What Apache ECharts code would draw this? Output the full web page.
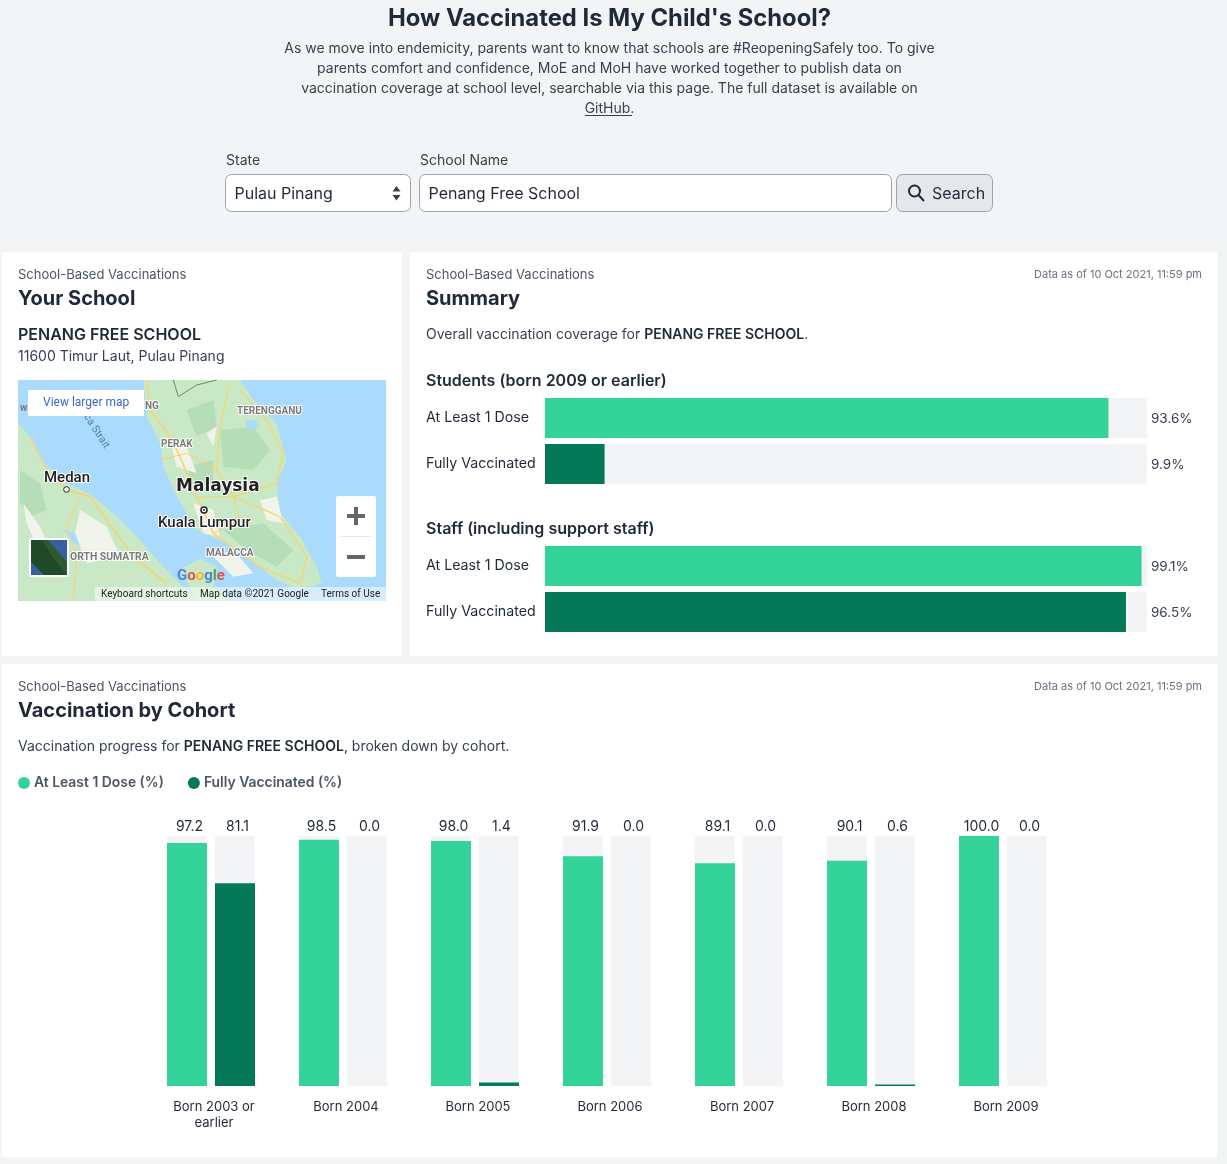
<!DOCTYPE html>
<html>
<head>
<meta charset="utf-8">
<title>How Vaccinated Is My Child's School?</title>
<script src="https://cdn.jsdelivr.net/npm/echarts@6/dist/echarts.min.js"></script>
<style>
html, body { margin: 0; padding: 0; background: #f3f4f6; }
#main { width: 1227px; height: 1164px; }
</style>
</head>
<body>
<div id="main"></div>
<script>
var SCALE_MAX = 100;

var summaryLabels = ['At Least 1 Dose', 'Fully Vaccinated'];
var studentValues = [93.6, 9.9];
var staffValues = [99.1, 96.5];
var summaryTrack = [100, 100];

var cohorts = ['Born 2003 or\nearlier', 'Born 2004', 'Born 2005', 'Born 2006', 'Born 2007', 'Born 2008', 'Born 2009'];
var atLeastOneDose = [97.2, 98.5, 98.0, 91.9, 89.1, 90.1, 100.0];
var fullyVaccinated = [81.1, 0.0, 1.4, 0.0, 0.0, 0.6, 0.0];
var cohortTrack = [100, 100, 100, 100, 100, 100, 100];

var GREEN = '#34d399', DARK = '#047857', TRACK = '#f3f4f6';
var INK = '#1f2937', BODY = '#374151', MUTED = '#4b5563';
var FONT = 'Inter, "Noto Sans", sans-serif';
var MAP_FONT = 'Roboto, Arial, sans-serif';

// plain graphic helpers, everything below the charts is page furniture
function txt(x, y, text, size, weight, color, align, family) {
    return {
        type: 'text', x: x, y: y + 1, silent: true,
        style: {
            text: text, fontSize: size, fontWeight: weight, fill: color,
            fontFamily: family || FONT, align: align || 'left', verticalAlign: 'middle'
        }
    };
}
function box(x, y, w, h, fill, stroke, r) {
    return {
        type: 'rect', silent: true,
        shape: { x: x, y: y, width: w, height: h, r: r || 0 },
        style: { fill: fill, stroke: stroke || null, lineWidth: stroke ? 1 : 0 }
    };
}
// map sketch points were read in zoomed crop coordinates
function zm(pts) {
    return pts.map(function (p) { return [p[0] / 3, p[1] / 3 + 370]; });
}
function land(pts, fill) {
    return { type: 'polygon', silent: true, shape: { points: zm(pts) }, style: { fill: fill } };
}
function road(pts, color, w) {
    return { type: 'polyline', silent: true, shape: { points: zm(pts) }, style: { stroke: color, fill: null, lineWidth: w || 1 } };
}
function mapLabel(x, y, text, size, weight, color, family) {
    var t = txt(x, y, text, size, weight, color, 'left', family || MAP_FONT);
    t.style.stroke = '#ffffff';
    t.style.lineWidth = 2;
    return t;
}

var page = [
    box(2, 252, 400, 404, '#ffffff'),
    box(410, 252, 807, 404, '#ffffff'),
    box(2, 664, 1215, 493, '#ffffff'),

    txt(609.5, 18, "How Vaccinated Is My Child's School?", 23.8, 700, INK, 'center'),
    txt(609.5, 48, 'As we move into endemicity, parents want to know that schools are #ReopeningSafely too. To give', 14, 400, BODY, 'center'),
    txt(609.5, 68, 'parents comfort and confidence, MoE and MoH have worked together to publish data on', 14, 400, BODY, 'center'),
    txt(609.5, 88, 'vaccination coverage at school level, searchable via this page. The full dataset is available on', 14, 400, BODY, 'center'),
    txt(609.5, 108, 'GitHub.', 14, 400, BODY, 'center'),
    box(585, 115, 47, 1, BODY),

    txt(226, 160, 'State', 14, 400, BODY),
    txt(420, 160, 'School Name', 14, 400, BODY),
    box(225.5, 174.5, 185, 37, '#ffffff', '#9ca3af', 6),
    txt(234.5, 193, 'Pulau Pinang', 16, 400, INK),
    { type: 'polygon', silent: true, shape: { points: [[392.5, 191.5], [400.5, 191.5], [396.5, 186]] }, style: { fill: '#374151' } },
    { type: 'polygon', silent: true, shape: { points: [[392.5, 195], [400.5, 195], [396.5, 200.5]] }, style: { fill: '#374151' } },
    box(419.5, 174.5, 472, 37, '#ffffff', '#9ca3af', 6),
    txt(428.5, 193, 'Penang Free School', 16, 400, INK),
    box(896.5, 174.5, 96, 37, '#e5e7eb', '#9ca3af', 6),
    { type: 'circle', silent: true, shape: { cx: 914.5, cy: 191, r: 5.5 }, style: { fill: null, stroke: INK, lineWidth: 2 } },
    { type: 'line', silent: true, shape: { x1: 918.5, y1: 195, x2: 924, y2: 201 }, style: { stroke: INK, lineWidth: 2 } },
    txt(932, 193, 'Search', 16, 400, INK),

    txt(18, 274, 'School-Based Vaccinations', 13, 400, MUTED),
    txt(18, 298, 'Your School', 20, 700, INK),
    txt(18, 334, 'PENANG FREE SCHOOL', 16, 600, INK),
    txt(18, 356, '11600 Timur Laut, Pulau Pinang', 14, 400, BODY),

    txt(426, 274, 'School-Based Vaccinations', 13, 400, MUTED),
    txt(1202, 274, 'Data as of 10 Oct 2021, 11:59 pm', 11, 400, '#6b7280', 'right'),
    txt(426, 298, 'Summary', 20, 700, INK),
    {
        type: 'text', x: 426, y: 335, silent: true,
        style: {
            text: '{a|Overall vaccination coverage for }{b|PENANG FREE SCHOOL}{a|.}',
            verticalAlign: 'middle',
            rich: {
                a: { fontFamily: FONT, fontSize: 14, fill: BODY },
                b: { fontFamily: FONT, fontSize: 14, fontWeight: 600, fill: INK }
            }
        }
    },
    txt(426, 380, 'Students (born 2009 or earlier)', 16, 600, INK),
    txt(426, 528, 'Staff (including support staff)', 16, 600, INK),

    txt(18, 686, 'School-Based Vaccinations', 13, 400, MUTED),
    txt(1202, 686, 'Data as of 10 Oct 2021, 11:59 pm', 11, 400, '#6b7280', 'right'),
    txt(18, 710, 'Vaccination by Cohort', 20, 700, INK),
    {
        type: 'text', x: 18, y: 747, silent: true,
        style: {
            text: '{a|Vaccination progress for }{b|PENANG FREE SCHOOL}{a|, broken down by cohort.}',
            verticalAlign: 'middle',
            rich: {
                a: { fontFamily: FONT, fontSize: 14, fill: BODY },
                b: { fontFamily: FONT, fontSize: 14, fontWeight: 600, fill: INK }
            }
        }
    }
];

// rough sketch of the embedded map
var LAND = '#c9e8c5', FOREST = '#b5deb8', URBAN = '#f1f4ea', SEA = '#aadafc', ROAD = '#fbd36b';
var mapSketch = [
    box(18, 380, 368, 221, SEA),
    land([[54, 160], [90, 200], [130, 280], [200, 340], [270, 372], [340, 430], [420, 510], [490, 590], [540, 640], [590, 692], [54, 692]], LAND),
    land([[430, 30], [720, 30], [760, 90], [830, 160], [860, 270], [830, 340], [840, 430], [900, 500], [950, 590], [965, 640], [900, 660], [830, 630], [780, 590], [680, 520], [590, 480], [530, 380], [490, 290], [480, 220], [440, 140]], LAND),
    land([[540, 600], [600, 565], [650, 590], [640, 650], [690, 692], [590, 692]], LAND),
    land([[660, 180], [760, 170], [810, 240], [760, 300], [670, 290]], FOREST),
    land([[60, 300], [120, 340], [140, 420], [90, 440], [60, 400]], FOREST),
    land([[670, 480], [790, 460], [880, 540], [830, 590], [740, 540]], FOREST),
    land([[560, 120], [640, 90], [650, 170], [590, 200]], FOREST),
    land([[560, 290], [640, 270], [640, 340], [580, 350]], FOREST),
    land([[240, 420], [320, 470], [360, 560], [260, 580], [225, 490]], URBAN),
    land([[70, 400], [120, 470], [160, 560], [120, 550], [80, 460]], URBAN),
    land([[580, 400], [640, 420], [660, 500], [610, 490]], URBAN),
    land([[620, 190], [650, 170], [640, 230]], URBAN),
    land([[780, 390], [830, 380], [850, 460], [800, 450]], URBAN),
    land([[510, 210], [560, 230], [590, 310], [530, 290]], URBAN),
    land([[640, 560], [700, 540], [760, 610], [700, 620]], URBAN),
    land([[190, 478], [225, 490], [240, 530], [215, 515]], SEA),
    land([[735, 150], [770, 150], [775, 175], [745, 180]], SEA),
    road([[440, 30], [450, 120], [510, 200], [540, 260], [590, 380], [640, 490], [780, 590], [900, 640]], ROAD, 1.5),
    road([[690, 30], [660, 180], [650, 300], [700, 380], [830, 340], [850, 250], [800, 150], [720, 60]], ROAD, 1.2),
    road([[200, 360], [270, 380], [320, 450], [400, 560], [500, 640]], ROAD, 1.5),
    road([[90, 200], [140, 300], [200, 360]], ROAD, 1.2),
    road([[240, 380], [200, 470], [230, 560], [220, 692]], ROAD, 1),
    road([[700, 380], [840, 440], [920, 560], [900, 640]], ROAD, 1.2),
    road([[590, 380], [700, 380], [720, 450], [640, 490]], ROAD, 1),
    road([[480, 270], [560, 250], [650, 300]], ROAD, 1),
    road([[520, 30], [535, 80], [590, 45], [650, 30]], '#7d7d7d', 1),

    mapLabel(237, 410, 'TERENGGANU', 10, 700, '#7a7a7a'),
    mapLabel(161, 443, 'PERAK', 10, 700, '#7a7a7a'),
    mapLabel(206, 552, 'MALACCA', 10, 700, '#7a7a7a'),
    mapLabel(70, 556, 'ORTH SUMATRA', 10.4, 700, '#7a7a7a'),
    mapLabel(145, 405, 'NG', 10, 700, '#7a7a7a'),
    txt(20, 407, 'w', 10, 700, '#7a7a7a', 'left', MAP_FONT),
    mapLabel(44, 477, 'Medan', 15, 500, '#222222'),
    { type: 'circle', silent: true, shape: { cx: 66.5, cy: 489.5, r: 2.8 }, style: { fill: '#ffffff', stroke: '#222222', lineWidth: 1 } },
    mapLabel(176, 486, 'Malaysia', 17, 700, '#222222', '"DejaVu Sans", sans-serif'),
    { type: 'circle', silent: true, shape: { cx: 204, cy: 510, r: 3 }, style: { fill: '#ffffff', stroke: '#222222', lineWidth: 1.5 } },
    { type: 'circle', silent: true, shape: { cx: 204, cy: 510, r: 1 }, style: { fill: '#222222' } },
    mapLabel(158, 522, 'Kuala Lumpur', 15, 500, '#222222'),
    (function () {
        var t = txt(95, 428, 'cca Strait', 10.5, 400, '#4a7fb5', 'center', MAP_FONT);
        t.rotation = -1.0;
        return t;
    })(),

    box(28, 390, 116, 26, '#ffffff'),
    txt(43, 402, 'View larger map', 12, 400, '#3a66c4', 'left', MAP_FONT),

    box(29, 538, 40, 39, '#ffffff', null, 2),
    box(31, 540, 36, 35, '#2f5a2f'),
    { type: 'polygon', silent: true, shape: { points: [[31, 540], [42, 540], [52, 556], [67, 575], [50, 575], [31, 575]] }, style: { fill: '#1f4a2a' } },
    { type: 'polygon', silent: true, shape: { points: [[48, 540], [67, 540], [67, 562]] }, style: { fill: '#3a5f9e' } },
    { type: 'polygon', silent: true, shape: { points: [[31, 562], [44, 575], [31, 575]] }, style: { fill: '#3a5f9e' } },

    box(336, 496, 40, 81, '#ffffff', null, 2),
    box(341, 536, 30, 1, '#e6e6e6'),
    box(347, 514, 18, 4, '#666666'),
    box(354, 507, 4, 18, '#666666'),
    box(347, 555, 18, 4, '#666666'),

    { type: 'text', x: 177, y: 576, silent: true, style: {
        text: '{b|G}{r|o}{y|o}{b|g}{g|l}{r|e}', verticalAlign: 'middle',
        rich: {
            b: { fontFamily: MAP_FONT, fontSize: 15, fontWeight: 700, fill: '#4e86e8' },
            r: { fontFamily: MAP_FONT, fontSize: 15, fontWeight: 700, fill: '#e0574a' },
            y: { fontFamily: MAP_FONT, fontSize: 15, fontWeight: 700, fill: '#e9b93c' },
            g: { fontFamily: MAP_FONT, fontSize: 15, fontWeight: 700, fill: '#4aa65a' }
        }
    } },

    { type: 'rect', silent: true, shape: { x: 95, y: 587, width: 291, height: 14 }, style: { fill: 'rgba(255,255,255,0.5)' } },
    txt(101, 593, 'Keyboard shortcuts', 10, 400, '#222222', 'left', MAP_FONT),
    txt(200, 593, 'Map data ©2021 Google', 10, 400, '#222222', 'left', MAP_FONT),
    txt(321, 593, 'Terms of Use', 10, 400, '#222222', 'left', MAP_FONT)
];

var hiddenValueAxis = function (grid) {
    return {
        type: 'value', gridIndex: grid, min: 0, max: SCALE_MAX,
        axisLabel: { show: false }, axisLine: { show: false }, axisTick: { show: false }, splitLine: { show: false }
    };
};
var summaryAxis = function (grid) {
    return {
        type: 'category', gridIndex: grid, data: summaryLabels, inverse: true,
        axisLine: { show: false }, axisTick: { show: false },
        axisLabel: { align: 'left', margin: 119, padding: [4, 0, 0, 0], fontFamily: FONT, fontSize: 14.2, color: INK }
    };
};
// grey full-scale track that also carries the value label
var summaryTrackSeries = function (grid, values) {
    return {
        type: 'bar', xAxisIndex: grid, yAxisIndex: grid, data: summaryTrack,
        barWidth: 40, barGap: '-100%', itemStyle: { color: TRACK }, silent: true, z: 2,
        label: {
            show: true, position: 'right', distance: 4, offset: [0, 1],
            fontFamily: FONT, fontSize: 13.5, color: BODY,
            formatter: function (p) { return values[p.dataIndex].toFixed(1) + '%'; }
        }
    };
};
var summarySeries = function (grid, values) {
    return {
        type: 'bar', xAxisIndex: grid, yAxisIndex: grid, barWidth: 40, barGap: '-100%', silent: true, z: 3,
        data: values.map(function (v, i) {
            return { value: v, itemStyle: { color: i === 0 ? GREEN : DARK } };
        })
    };
};
// cohort tracks sit on axis 2, the real bars on axis 3, so both group the same way
var cohortTrackSeries = function (values) {
    return {
        type: 'bar', xAxisIndex: 2, yAxisIndex: 2, data: cohortTrack,
        barWidth: 40, barGap: '20%', itemStyle: { color: TRACK }, silent: true, z: 2,
        label: {
            show: true, position: 'top', distance: 2, offset: [2.5, 0],
            fontFamily: FONT, fontSize: 14, color: INK,
            formatter: function (p) { return values[p.dataIndex].toFixed(1); }
        }
    };
};
var cohortSeries = function (name, values, color) {
    return {
        name: name, type: 'bar', xAxisIndex: 3, yAxisIndex: 2, data: values,
        barWidth: 40, barGap: '20%', itemStyle: { color: color }, silent: true, z: 3
    };
};

var option = {
    backgroundColor: '#f3f4f6',
    animation: false,
    textStyle: { fontFamily: FONT },
    graphic: { elements: page.concat(mapSketch) },
    legend: {
        left: 18, top: 776, icon: 'circle', itemWidth: 12, itemHeight: 12, itemGap: 24, padding: 0,
        selectedMode: false,
        data: ['At Least 1 Dose (%)', 'Fully Vaccinated (%)'],
        textStyle: { fontFamily: FONT, fontSize: 13.9, fontWeight: 600, color: MUTED, padding: [0, 0, 0, -1] }
    },
    grid: [
        { left: 545, top: 395, width: 602, height: 92 },
        { left: 545, top: 543, width: 602, height: 92 },
        { left: 145, top: 836, width: 924, height: 250 }
    ],
    xAxis: [
        hiddenValueAxis(0),
        hiddenValueAxis(1),
        {
            type: 'category', gridIndex: 2, data: cohorts,
            axisLine: { show: false }, axisTick: { show: false },
            axisLabel: { interval: 0, margin: 13, lineHeight: 16, fontFamily: FONT, fontSize: 13, color: INK, padding: [0, 0, 0, 6] }
        },
        { type: 'category', gridIndex: 2, data: cohorts, show: false }
    ],
    yAxis: [
        summaryAxis(0),
        summaryAxis(1),
        hiddenValueAxis(2)
    ],
    series: [
        summaryTrackSeries(0, studentValues),
        summarySeries(0, studentValues),
        summaryTrackSeries(1, staffValues),
        summarySeries(1, staffValues),
        cohortTrackSeries(atLeastOneDose),
        cohortTrackSeries(fullyVaccinated),
        cohortSeries('At Least 1 Dose (%)', atLeastOneDose, GREEN),
        cohortSeries('Fully Vaccinated (%)', fullyVaccinated, DARK)
    ]
};

var myChart = echarts.init(document.getElementById('main'));
myChart.setOption(option);
</script>
</body>
</html>
